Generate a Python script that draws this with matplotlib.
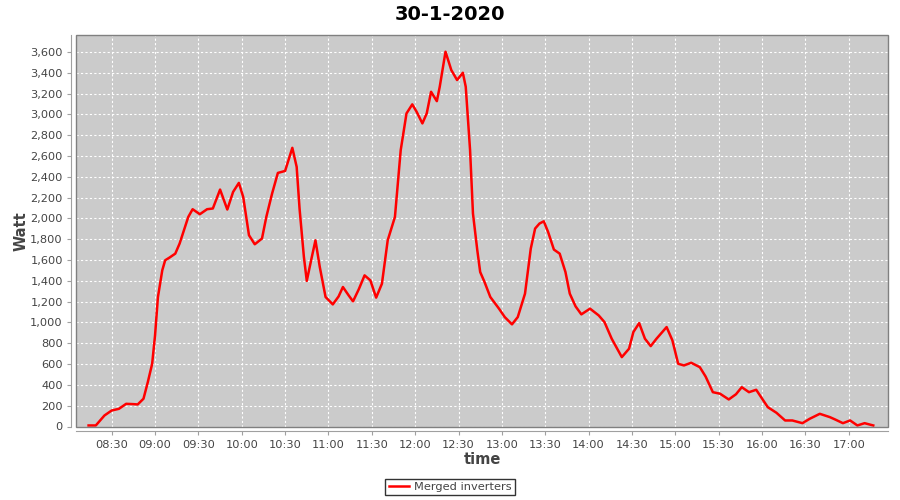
"""Grafico di potenza degli inverter, 30-1-2020."""

import matplotlib
matplotlib.use("Agg")
import matplotlib.pyplot as plt
import matplotlib.dates as mdates
from matplotlib.patches import Rectangle
from matplotlib.ticker import FuncFormatter, MultipleLocator
import pandas as pd

giorno = "2020-01-30"
orari = [
    "08:14", "08:19", "08:25", "08:30", "08:35", "08:40", "08:45", "08:48",
    "08:52", "08:55", "08:58", "09:00", "09:02", "09:05", "09:07", "09:10",
    "09:14", "09:17", "09:20", "09:23", "09:26", "09:31", "09:36", "09:40",
    "09:45", "09:50", "09:54", "09:58", "10:01", "10:05", "10:09", "10:14",
    "10:17", "10:21", "10:25", "10:30", "10:35", "10:38", "10:40", "10:43",
    "10:45", "10:48", "10:51", "10:54", "10:58", "11:03", "11:07", "11:10",
    "11:14", "11:17", "11:21", "11:25", "11:29", "11:33", "11:37", "11:41",
    "11:46", "11:50", "11:54", "11:58", "12:01", "12:05", "12:08", "12:11",
    "12:15", "12:17", "12:21", "12:25", "12:29", "12:33", "12:35", "12:38",
    "12:40", "12:43", "12:45", "12:48", "12:52", "12:58", "13:02", "13:07",
    "13:11", "13:16", "13:20", "13:23", "13:26", "13:29", "13:32", "13:36",
    "13:40", "13:44", "13:47", "13:51", "13:55", "14:01", "14:07", "14:11",
    "14:16", "14:23", "14:28", "14:31", "14:35", "14:39", "14:43", "14:47",
    "14:54", "14:58", "15:02", "15:06", "15:11", "15:17", "15:21", "15:26",
    "15:31", "15:37", "15:42", "15:46", "15:51", "15:56", "16:00", "16:04",
    "16:10", "16:16", "16:21", "16:28", "16:33", "16:40", "16:47", "16:51",
    "16:56", "17:01", "17:06", "17:11", "17:17",
]
watt = [
    10, 10, 106, 154, 170, 218, 215, 212,
    267, 427, 603, 876, 1245, 1502, 1598, 1624,
    1662, 1759, 1887, 2015, 2089, 2041, 2089, 2096,
    2278, 2086, 2255, 2342, 2207, 1839, 1752, 1807,
    2015, 2240, 2438, 2457, 2679, 2496, 2095, 1630,
    1400, 1598, 1790, 1533, 1245, 1174, 1250, 1341,
    1260, 1203, 1320, 1453, 1405, 1239, 1373, 1790,
    2015, 2657, 3010, 3097, 3026, 2914, 3010, 3218,
    3128, 3266, 3603, 3427, 3331, 3401, 3266, 2657,
    2047, 1694, 1485, 1389, 1245, 1133, 1052, 982,
    1052, 1277, 1710, 1903, 1951, 1973, 1870, 1701,
    1662, 1485, 1277, 1155, 1078, 1133, 1068, 1004,
    844, 667, 748, 908, 994, 844, 773, 844,
    956, 828, 603, 587, 613, 570, 480, 330,
    315, 260, 310, 378, 330, 353, 270, 186,
    132, 58, 58, 32, 74, 122, 90, 65,
    32, 58, 10, 32, 10,
]
serie = "Merged inverters"
titolo = "30-1-2020"

tempi = pd.to_datetime([f"{giorno} {o}" for o in orari])

fig = plt.figure(figsize=(9, 5), dpi=100)
ax = fig.add_axes([76 / 900, 1 - 426.5 / 500, 812 / 900, 391.5 / 500])
ax.set_facecolor("#cbcbcb")

ax.plot(tempi, watt, color="#ff0000", linewidth=1.8, label=serie,
        solid_joinstyle="round")

ax.set_xlim(pd.Timestamp(f"{giorno} 08:05:18"), pd.Timestamp(f"{giorno} 17:27:12"))
ax.set_ylim(0, 3764)

ax.xaxis.set_major_locator(mdates.MinuteLocator(byminute=[0, 30]))
ax.xaxis.set_major_formatter(mdates.DateFormatter("%H:%M"))
ax.yaxis.set_major_locator(MultipleLocator(200))
ax.yaxis.set_major_formatter(FuncFormatter(lambda v, _: f"{int(v):,}"))

ax.grid(True, color="white", linestyle=(0, (2, 2)), linewidth=0.8)
ax.set_axisbelow(True)

# cornice del grafico + assi spostati verso l'esterno
for lato in ("top", "right"):
    ax.spines[lato].set_visible(False)
for lato in ("left", "bottom"):
    ax.spines[lato].set_position(("outward", 3.5))
    ax.spines[lato].set_color("#a0a0a0")
ax.add_patch(Rectangle((0, 0), 1, 1, transform=ax.transAxes, fill=False,
                       edgecolor="#808080", linewidth=1, clip_on=False, zorder=5))

ax.tick_params(axis="both", length=3, width=0.8, color="#a0a0a0",
               labelsize=8.2, labelcolor="#444444", pad=3)

ax.set_xlabel("time", fontsize=10.5, fontweight="bold", color="#444444", labelpad=2)
ax.set_ylabel("Watt", fontsize=10.5, fontweight="bold", color="#444444", labelpad=1)

fig.text(0.5, 1 - 14 / 500, titolo, ha="center", va="center",
         fontsize=14, fontweight="bold")

leg = fig.legend(loc="center", bbox_to_anchor=(0.5, 1 - 487 / 500),
                 fontsize=8.2, frameon=True, fancybox=False, handlelength=1.8,
                 handletextpad=0.4, borderpad=0.3, borderaxespad=0)
leg.get_frame().set_edgecolor("black")
leg.get_frame().set_linewidth(1)
for t in leg.get_texts():
    t.set_color("#444444")

fig.savefig("out.png", dpi=100)
